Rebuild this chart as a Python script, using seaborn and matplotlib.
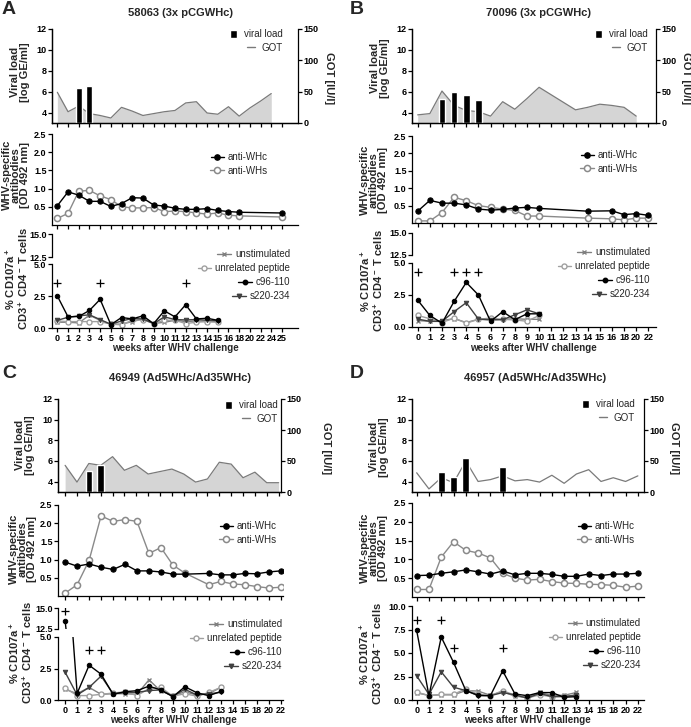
import matplotlib
matplotlib.use("Agg")
import matplotlib.pyplot as plt
from matplotlib.lines import Line2D
from matplotlib.patches import Patch
import seaborn as sns

## week labels on the x axes (categorical, equally spaced)
weeks_A = ['0', '1', '2', '3', '4', '5', '6', '7', '8', '9', '10', '11', '12', '13', '14', '15', '16',
           '18', '20', '22', '24', '25']
weeks_B = ['0', '1', '2', '3', '4', '5', '6', '7', '8', '9', '10', '11', '12', '13', '14', '15', '16',
           '18', '20', '22']
weeks_C = ['0', '1', '2', '3', '4', '5', '6', '7', '8', '9', '10', '11', '12', '13', '14', '15',
           '18', '20', '22']
weeks_D = ['0', '1', '2', '3', '4', '5', '6', '7', '8', '9', '10', '11', '12', '13', '14', '15',
           '18', '20', '22']

## panel A - 58063 (3x pCGWHc)
vl_A_w = ['2', '3']
vl_A = [6.35, 6.5]
got_A_w = ['0', '1', '2', '3', '4', '5', '6', '7', '8', '9', '10', '11', '12', '13', '14', '15', '16',
           '18', '20', '22', '24']
got_A = [49, 18, 27, 15, 12, 8, 25, 19, 12, 15, 18, 20, 32, 34, 16, 14, 26, 11, 24, 35, 47]
ab_A_w = ['0', '1', '2', '3', '4', '5', '6', '7', '8', '9', '10', '11', '12', '13', '14', '15', '16',
          '18', '25']
whc_A = [0.53, 0.91, 0.82, 0.65, 0.65, 0.51, 0.59, 0.75, 0.74, 0.55, 0.52, 0.46, 0.43, 0.43, 0.45,
         0.40, 0.37, 0.35, 0.33]
whs_A = [0.18, 0.32, 0.93, 0.95, 0.80, 0.70, 0.50, 0.47, 0.47, 0.48, 0.37, 0.38, 0.37, 0.33, 0.30,
         0.33, 0.27, 0.25, 0.22]
cd_A_w = ['0', '1', '2', '3', '4', '5', '6', '7', '8', '9', '10', '11', '12', '13', '14', '15']
unstim_A = [0.45, 0.45, 0.40, 1.00, 0.60, 0.30, 0.30, 0.50, 0.70, 0.35, 0.45, 0.60, 0.50, 0.55, 0.50, 0.50]
unrel_A = [0.55, 0.50, 0.50, 0.50, 0.50, 0.30, 0.25, 0.60, 0.65, 0.35, 0.60, 0.60, 0.35, 0.45, 0.50, 0.45]
c96_A = [2.50, 0.87, 0.90, 1.37, 2.24, 0.26, 0.82, 0.71, 0.95, 0.34, 1.34, 0.87, 1.82, 0.71, 0.76, 0.60]
s220_A = [0.60, 0.84, 0.95, 1.03, 0.66, 0.29, 0.55, 0.74, 0.71, 0.34, 0.87, 0.66, 0.63, 0.66, 0.60, 0.58]
sig_A_w = ['0', '4', '12']
sig_A = [3.55, 3.55, 3.55]

## panel B - 70096 (3x pCGWHc)
vl_B_w = ['2', '3', '4', '5']
vl_B = [5.27, 6.0, 5.65, 5.2]
got_B_w = ['0', '1', '2', '3', '4', '5', '6', '7', '8', '9', '10', '11', '12', '13', '14', '15', '16',
           '18', '20']
got_B = [13, 15, 51, 28, 20, 18, 11, 34, 22, 39, 57, 45, 33, 21, 25, 30, 28, 25, 11]
ab_B_w = ['0', '1', '2', '3', '4', '5', '6', '7', '8', '9', '10', '14', '16', '18', '20', '22']
whc_B = [0.34, 0.65, 0.57, 0.57, 0.52, 0.40, 0.37, 0.39, 0.43, 0.45, 0.42, 0.34, 0.35, 0.24, 0.27, 0.22]
whs_B = [0.06, 0.06, 0.30, 0.74, 0.64, 0.50, 0.45, 0.40, 0.36, 0.20, 0.20, 0.14, 0.12, 0.09, 0.14, 0.14]
cd_B_w = ['0', '1', '2', '3', '4', '5', '6', '7', '8', '9', '10']
unstim_B = [0.50, 0.45, 0.50, 0.65, 0.35, 0.60, 0.55, 0.60, 0.65, 0.60, 0.60]
unrel_B = [0.90, 0.65, 0.35, 0.70, 0.30, 0.60, 0.70, 0.60, 0.55, 0.45, 0.90]
c96_B = [2.10, 0.90, 0.30, 2.00, 3.48, 2.50, 0.44, 1.20, 0.57, 1.03, 1.03]
s220_B = [0.62, 0.44, 0.44, 1.20, 1.90, 0.62, 0.57, 0.57, 0.95, 1.34, 1.03]
sig_B_w = ['0', '3', '4', '5']
sig_B = [4.3, 4.3, 4.3, 4.3]

## panel C - 46949 (Ad5WHc/Ad35WHc)
vl_C_w = ['2', '3']
vl_C = [5.0, 5.65]
got_C_w = weeks_C
got_C = [43, 16, 46, 43, 57, 35, 43, 29, 33, 37, 29, 16, 21, 48, 45, 23, 32, 15, 15]
ab_C_w = ['0', '1', '2', '3', '4', '5', '6', '7', '8', '9', '10', '12', '13', '14', '15', '18', '20', '22']
whc_C = [0.93, 0.82, 0.88, 0.79, 0.73, 0.87, 0.69, 0.69, 0.66, 0.60, 0.60, 0.62, 0.58, 0.58, 0.62,
         0.61, 0.66, 0.69]
whs_C = [0.08, 0.31, 0.98, 2.20, 2.05, 2.10, 2.05, 1.17, 1.33, 0.85, 0.63, 0.31, 0.40, 0.33, 0.31,
         0.26, 0.22, 0.24]
cd_C_w = ['0', '1', '2', '3', '4', '5', '6', '7', '8', '9', '10', '11', '12', '13']
unstim_C = [0.85, 0.50, 1.00, 0.45, 0.50, 0.50, 0.45, 1.60, 0.70, 0.35, 0.65, 0.40, 0.50, 1.00]
unrel_C = [0.95, 0.35, 0.35, 0.45, 0.55, 0.65, 0.35, 0.90, 1.00, 0.30, 0.50, 0.30, 0.60, 1.00]
c96_C = [13.4, 0.53, 2.76, 2.05, 0.45, 0.66, 0.74, 1.10, 0.79, 0.26, 1.05, 0.58, 0.34, 0.68]
s220_C = [2.20, 0.40, 1.00, 1.90, 0.50, 0.60, 0.60, 0.75, 0.80, 0.30, 0.85, 0.40, 0.50, 0.60]
sig_C_w = ['0', '2', '3']
sig_C = [14.6, 4.0, 4.0]

## panel D - 46957 (Ad5WHc/Ad35WHc)
vl_D_w = ['2', '3', '4', '7']
vl_D = [4.9, 4.5, 6.3, 5.45]
got_D_w = weeks_D
got_D = [31, 5, 23, 15, 50, 17, 20, 26, 18, 20, 16, 27, 14, 29, 36, 17, 23, 17, 26]
ab_D_w = weeks_D
whc_D = [0.57, 0.58, 0.63, 0.67, 0.72, 0.67, 0.61, 0.69, 0.59, 0.63, 0.63, 0.60, 0.55, 0.55, 0.61,
         0.57, 0.61, 0.61, 0.63]
whs_D = [0.20, 0.20, 1.06, 1.47, 1.24, 1.17, 1.04, 0.63, 0.50, 0.45, 0.47, 0.41, 0.37, 0.36, 0.34,
         0.33, 0.31, 0.26, 0.29]
cd_D_w = ['0', '1', '2', '3', '4', '5', '6', '7', '8', '9', '10', '11', '12', '13']
unstim_D = [0.75, 0.50, 0.55, 0.55, 1.00, 0.95, 0.50, 0.90, 0.40, 0.30, 0.80, 0.50, 0.50, 0.80]
unrel_D = [0.85, 0.45, 0.60, 0.60, 1.20, 0.60, 0.45, 1.00, 0.50, 0.20, 0.55, 0.35, 0.40, 0.50]
c96_D = [7.40, 0.46, 6.70, 4.00, 1.00, 0.50, 0.46, 3.10, 0.64, 0.46, 0.79, 0.79, 0.29, 0.36]
s220_D = [2.57, 0.60, 3.00, 1.36, 1.00, 0.46, 0.46, 0.79, 0.54, 0.20, 0.70, 0.36, 0.36, 0.54]
sig_D_w = ['0', '2', '3', '7']
sig_D = [8.5, 8.5, 5.5, 5.5]

##style
sns.set_theme(style="ticks")
plt.rcParams["font.family"] = ["Liberation Sans", "DejaVu Sans"]
plt.rcParams.update({
    "axes.linewidth": 0.9, "axes.edgecolor": "black",
    "xtick.major.size": 3, "ytick.major.size": 3,
    "xtick.major.width": 0.9, "ytick.major.width": 0.9,
    "xtick.major.pad": 1.2, "ytick.major.pad": 1.0,
    "xtick.color": "black", "ytick.color": "black",
    "xtick.labelsize": 6.5, "ytick.labelsize": 6.5,
    "mathtext.fontset": "custom", "mathtext.rm": "Liberation Sans",
    "mathtext.bf": "Liberation Sans:bold", "mathtext.default": "bf",
})

GOT_FILL = "#d5d5d5"
GOT_LINE = "#7a7a7a"
WHS_COL = "#8a8a8a"
UNSTIM_COL = "#808080"
UNREL_COL = "#a0a0a0"
S220_COL = "#404040"

W, H = 691, 727
fig = plt.figure(figsize=(W / 100, H / 100), dpi=100)


def ax_at(x0, y0, x1, y1):
    return fig.add_axes([x0 / W, 1 - y1 / H, (x1 - x0) / W, (y1 - y0) / H])


def txt(x, y, s, **kw):
    kw.setdefault("ha", "center")
    kw.setdefault("va", "center")
    return fig.text(x / W, 1 - y / H, s, **kw)


def pos(weeks, sel):
    return [weeks.index(w) for w in sel]


def bold_ticks(ax):
    for t in ax.get_xticklabels() + ax.get_yticklabels():
        t.set_fontweight("bold")


def legend_at(handles, labels, x, y, **kw):
    leg = fig.legend(handles, labels, loc="upper right", bbox_to_anchor=(x / W, 1 - y / H),
                     frameon=False, fontsize=7, borderpad=0, borderaxespad=0, **kw)
    # right-align the entries like the original software does
    for col in leg._legend_handle_box.get_children():
        col.align = "right"
    return leg


def viral_panel(box, xlim, weeks, vl_w, vl, got_w, got, fill, leg_xy):
    ax = ax_at(*box)
    ax2 = ax.twinx()
    gx = pos(weeks, got_w)
    if fill:
        ax2.fill_between(gx, 0, got, color=GOT_FILL, lw=0)
    sns.lineplot(x=gx, y=got, ax=ax2, color=GOT_LINE, lw=0.9, errorbar=None)
    ax.bar(pos(weeks, vl_w), [v - 3 for v in vl], bottom=3, width=0.55, color="black")
    ax.set_zorder(ax2.get_zorder() + 1)
    ax.patch.set_visible(False)
    ax.set_xlim(*xlim)
    ax.set_xticks(range(len(weeks)), [""] * len(weeks))
    ax.set_ylim(3, 12)
    ax.set_yticks([4, 6, 8, 10, 12], ["4", "6", "8", "10", "12"])
    ax2.set_ylim(0, 150)
    ax2.set_yticks([0, 50, 100, 150], ["0", "50", "100", "150"])
    ax2.set_ylabel("")
    ax.spines["top"].set_visible(False)
    ax.spines["right"].set_visible(False)
    ax2.spines["top"].set_visible(False)
    bold_ticks(ax)
    bold_ticks(ax2)
    h = [Patch(facecolor="black"), Line2D([], [], color=GOT_LINE, lw=1)]
    legend_at(h, ["viral load", "GOT"], *leg_xy, handlelength=0.8, handleheight=0.9,
              handletextpad=0.7, labelspacing=0.4)


def ab_panel(box, xlim, weeks, ab_w, whc, whs, leg_xy):
    ax = ax_at(*box)
    x = pos(weeks, ab_w)
    sns.lineplot(x=x, y=whs, ax=ax, color=WHS_COL, lw=1, marker="o", ms=4.4, mfc="white",
                 mec=WHS_COL, mew=1.1, errorbar=None)
    sns.lineplot(x=x, y=whc, ax=ax, color="black", lw=1, marker="o", ms=3.8, mec="black",
                 errorbar=None)
    ax.set_xlim(*xlim)
    ax.set_xticks(range(len(weeks)), [""] * len(weeks))
    ax.set_ylim(0, 2.5)
    ax.set_yticks([0.5, 1.0, 1.5, 2.0, 2.5], ["0.5", "1.0", "1.5", "2.0", "2.5"])
    sns.despine(ax=ax)
    bold_ticks(ax)
    h = [Line2D([], [], color="black", lw=1, marker="o", ms=3.8),
         Line2D([], [], color=WHS_COL, lw=1, marker="o", ms=4.4, mfc="white", mew=1.1)]
    legend_at(h, ["anti-WHc", "anti-WHs"], *leg_xy, handlelength=1.4, handletextpad=0.4,
              labelspacing=0.4)


def cd_series(ax, x, unstim, unrel, c96, s220):
    sns.lineplot(x=x, y=unstim, ax=ax, color=UNSTIM_COL, lw=1, marker="x", ms=3.5, mec=UNSTIM_COL,
                 mew=1, errorbar=None)
    sns.lineplot(x=x, y=unrel, ax=ax, color=UNREL_COL, lw=1, marker="o", ms=3.6, mfc="white",
                 mec=UNREL_COL, mew=1, errorbar=None)
    sns.lineplot(x=x, y=s220, ax=ax, color=S220_COL, lw=1, marker="v", ms=3.2, mec=S220_COL,
                 errorbar=None)
    sns.lineplot(x=x, y=c96, ax=ax, color="black", lw=1, marker="o", ms=3.2, mec="black",
                 errorbar=None)


def cd_panel(boxes, xlim, weeks, cd_w, unstim, unrel, c96, s220, sig_w, sig, leg_xy):
    x = pos(weeks, cd_w)
    sx = pos(weeks, sig_w)
    if len(boxes) == 2:
        up = ax_at(*boxes[0])
        low = ax_at(*boxes[1])
        cd_series(up, x, unstim, unrel, c96, s220)
        up.set_ylim(12.5, 15)
        up.set_yticks([12.5, 15.0], ["12.5", "15.0"])
        up.set_xlim(*xlim)
        up.set_xticks([])
        for s in ("top", "right", "bottom"):
            up.spines[s].set_visible(False)
        bold_ticks(up)
        low.set_ylim(0, 5)
        low.set_yticks([0, 2.5, 5.0], ["0.0", "2.5", "5.0"])
        axes = [up, low]
    else:
        low = ax_at(*boxes[0])
        low.set_ylim(0, 10)
        low.set_yticks([0, 2.5, 5, 7.5, 10], ["0.0", "2.5", "5.0", "7.5", "10.0"])
        axes = [low]
    cd_series(low, x, unstim, unrel, c96, s220)
    for a in axes:
        a.plot(sx, sig, ls="none", marker="+", color="black", ms=5.5, mew=0.9)
    low.set_xlim(*xlim)
    low.set_xticks(range(len(weeks)), weeks)
    sns.despine(ax=low)
    bold_ticks(low)
    h = [Line2D([], [], color=UNSTIM_COL, lw=1, marker="x", ms=3.5, mew=1),
         Line2D([], [], color=UNREL_COL, lw=1, marker="o", ms=3.6, mfc="white", mew=1),
         Line2D([], [], color="black", lw=1, marker="o", ms=3.2),
         Line2D([], [], color=S220_COL, lw=1, marker="v", ms=3.2)]
    legend_at(h, ["unstimulated", "unrelated peptide", "c96-110", "s220-234"], *leg_xy,
              handlelength=1.4, handletextpad=0.4, labelspacing=0.42)


def labels(ox, oy, letter, lx, title, tx, vl_c, got_c, ab_c, cd_c, xl_c):
    txt(ox + lx, oy + 9, letter, fontsize=14, fontweight="bold", ha="left")
    txt(ox + tx, oy + 13, title, fontsize=8, fontweight="bold")
    lab = dict(fontsize=8, fontweight="bold", rotation=90, multialignment="center", linespacing=0.92)
    txt(ox + vl_c[0], oy + vl_c[1], "Viral load\n[log GE/ml]", **lab)
    txt(ox + got_c[0], oy + got_c[1], "GOT [IU/l]", fontsize=8, fontweight="bold", rotation=270)
    txt(ox + ab_c[0], oy + ab_c[1], "WHV-specific\nantibodies\n[OD 492 nm]", **lab)
    txt(ox + cd_c[0], oy + cd_c[1], "% CD107a$^+$\nCD3$^+$ CD4$^-$ T cells", **lab)
    txt(ox + xl_c[0], oy + xl_c[1], "weeks after WHV challenge", fontsize=7, fontweight="bold")


##panel A
viral_panel((52, 29, 298, 123), (-0.5, 22.5), weeks_A, vl_A_w, vl_A, got_A_w, got_A, True, (283, 29))
ab_panel((52, 134, 298, 225), (-0.5, 22.5), weeks_A, ab_A_w, whc_A, whs_A, (268, 152))
cd_panel([(52, 234, 298, 257), (52, 264, 298, 328)], (-0.5, 22.5), weeks_A, cd_A_w,
         unstim_A, unrel_A, c96_A, s220_A, sig_A_w, sig_A, (290, 249))
labels(0, 0, "A", 2, "58063 (3x pCGWHc)", 180, (20, 72), (329, 78), (16, 175), (17, 279), (175, 348))

##panel B
viral_panel((412, 29, 656, 123), (-0.47, 19.63), weeks_B, vl_B_w, vl_B, got_B_w, got_B, True, (648, 29))
ab_panel((412, 136, 656, 223), (-0.47, 19.63), weeks_B, ab_B_w, whc_B, whs_B, (638, 150))
cd_panel([(412, 233, 656, 255), (412, 263, 656, 327)], (-0.47, 19.63), weeks_B, cd_B_w,
         unstim_B, unrel_B, c96_B, s220_B, sig_B_w, sig_B, (650, 247))
labels(345, 0, "B", 5, "70096 (3x pCGWHc)", 193, (35, 68), (341, 78), (29, 180), (27, 281), (188, 348))

##panel C
viral_panel((58, 399, 281, 492), (-0.6, 18.2), weeks_C, vl_C_w, vl_C, got_C_w, got_C, True, (278, 400))
ab_panel((58, 505, 283, 596), (-0.6, 18.2), weeks_C, ab_C_w, whc_C, whs_C, (277, 521))
cd_panel([(58, 608, 283, 629), (58, 637, 283, 700)], (-0.6, 18.2), weeks_C, cd_C_w,
         unstim_C, unrel_C, c96_C, s220_C, sig_C_w, sig_C, (282, 619))
labels(0, 365, "C", 2, "46949 (Ad5WHc/Ad35WHc)", 180, (25, 80), (326, 83), (23, 184), (21, 288), (173, 355))

##panel D
viral_panel((412, 399, 644, 492), (-0.38, 18.5), weeks_D, vl_D_w, vl_D, got_D_w, got_D, False, (635, 399))
ab_panel((412, 503, 644, 597), (-0.38, 18.5), weeks_D, ab_D_w, whc_D, whs_D, (635, 521))
cd_panel([(412, 606, 644, 700)], (-0.38, 18.5), weeks_D, cd_D_w,
         unstim_D, unrel_D, c96_D, s220_D, sig_D_w, sig_D, (641, 618))
labels(345, 365, "D", 5, "46957 (Ad5WHc/Ad35WHc)", 190, (34, 82), (329, 83), (29, 183), (26, 289), (182, 355))

fig.savefig("out.png", dpi=100)
